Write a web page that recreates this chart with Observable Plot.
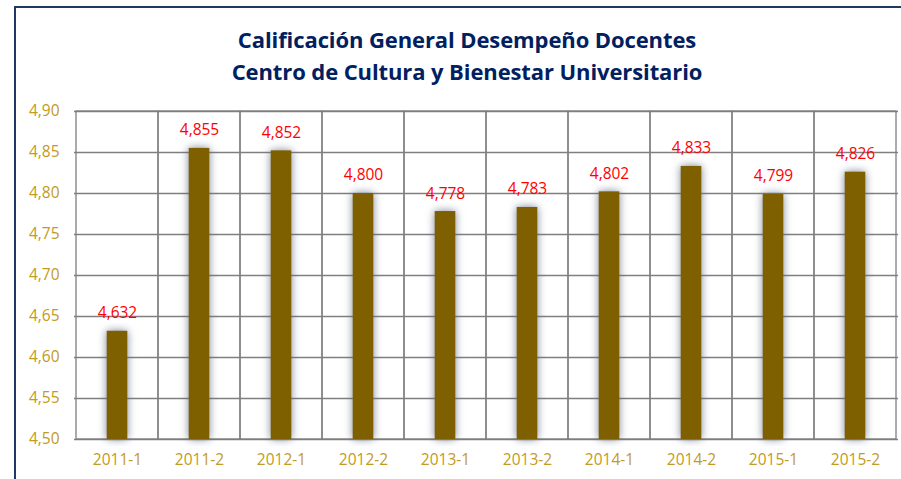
<!DOCTYPE html>
<html>
<head>
<meta charset="utf-8">
<script src="https://cdn.jsdelivr.net/npm/d3@7"></script>
<script src="https://cdn.jsdelivr.net/npm/@observablehq/plot@0.6"></script>
<style>
  html, body { margin: 0; padding: 0; background: #fff; }
  #wrap { position: relative; width: 901px; height: 479px; overflow: hidden; font-family: "Open Sans", sans-serif; }
  .bt { position: absolute; left: 15px; top: 6px; width: 886px; height: 2px; background: #1F3864; }
  .bl { position: absolute; left: 14px; top: 6px; width: 2px; height: 473px; background: #1F3864; }
  .title { position: absolute; left: 0; width: 934px; text-align: center; color: #002060; font-weight: bold; font-size: 22px; white-space: nowrap; letter-spacing: -0.1px; }
  #chart { position: absolute; left: 0; top: 95px; }
</style>
</head>
<body>
<div id="wrap">
  <div class="bt"></div>
  <div class="bl"></div>
  <div class="title" id="t1" style="top:24px">Calificación General Desempeño Docentes</div>
  <div class="title" id="t2" style="top:56px">Centro de Cultura y Bienestar Universitario</div>
  <div id="chart"></div>
</div>
<script>
const periods = ["2011-1","2011-2","2012-1","2012-2","2013-1","2013-2","2014-1","2014-2","2015-1","2015-2"];
const scores = [4.632, 4.855, 4.852, 4.800, 4.778, 4.783, 4.802, 4.833, 4.799, 4.826];
const yTicks = [4.50, 4.55, 4.60, 4.65, 4.70, 4.75, 4.80, 4.85, 4.90];

const data = periods.map((p, i) => ({period: p, value: scores[i]}));
const comma = (f) => (v) => d3.format(f)(v).replace(".", ",");
const gold = "#C39A22";

const plot = Plot.plot({
  width: 901,
  height: 384,
  marginLeft: 74,
  marginRight: 3,
  marginTop: 16,
  marginBottom: 40,
  style: {fontFamily: "Open Sans", fontSize: "15px", background: "transparent"},
  x: {domain: periods, padding: 0, label: null},
  y: {domain: [4.5, 4.9], ticks: yTicks, label: null, tickFormat: comma(".2f")},
  marks: [
    Plot.ruleY(yTicks, {stroke: "#7f7f7f", strokeWidth: 1.3}),
    Plot.cell(periods, {x: d => d, fill: "none", stroke: "#7f7f7f", strokeWidth: 1.3}),
    Plot.barY(data, {x: "period", y1: 4.5, y2: "value", fill: "#7F6000", insetLeft: 30.7, insetRight: 30.7}),
    Plot.text(data, {x: "period", y: "value", text: d => comma(".3f")(d.value), fill: "#FF0000", dy: -18, fontSize: 15.5}),
    Plot.axisX({tickSize: 0, tickPadding: 14, color: gold, fontSize: 15.5}),
    Plot.axisY({ticks: yTicks, tickSize: 0, tickPadding: 15, color: gold, fontSize: 15.5, tickFormat: comma(".2f")})
  ]
});
document.getElementById("chart").appendChild(plot);
d3.select(plot).selectAll('g[aria-label="bar"] rect')
  .style("filter", "drop-shadow(0px 0px 4px rgba(90,100,125,0.8))");
</script>
</body>
</html>
